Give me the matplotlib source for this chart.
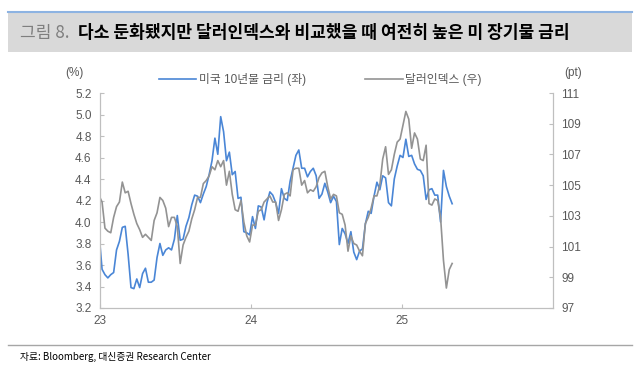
import numpy as np
import pandas as pd
import matplotlib
matplotlib.use('Agg')
import matplotlib.pyplot as plt
from matplotlib.ticker import MultipleLocator, FormatStrFormatter, FixedLocator

plt.rcParams['font.family'] = ['Liberation Sans', 'Noto Sans CJK KR', 'DejaVu Sans']

# weekly (Friday) readings, starting 2022-12-30
us10y = [3.88,
         3.56, 3.51, 3.48, 3.51, 3.53, 3.74, 3.82, 3.95, 3.96, 3.70,
         3.39, 3.38, 3.47, 3.39, 3.52, 3.57, 3.44, 3.44, 3.46, 3.67,
         3.80, 3.69, 3.74, 3.76, 3.74, 3.84, 4.06, 3.83, 3.84, 3.96,
         4.04, 4.16, 4.25, 4.24, 4.18, 4.26, 4.33, 4.44, 4.57, 4.78,
         4.63, 4.98, 4.84, 4.57, 4.65, 4.44, 4.47, 4.22, 4.23, 3.91,
         3.90, 3.88,
         4.05, 3.94, 4.15, 4.14, 4.02, 4.18, 4.28, 4.25, 4.18, 4.08,
         4.31, 4.22, 4.20, 4.38, 4.50, 4.62, 4.67, 4.50, 4.50, 4.42,
         4.47, 4.50, 4.43, 4.22, 4.26, 4.36, 4.28, 4.18, 4.24, 4.19,
         3.79, 3.94, 3.89, 3.80, 3.91, 3.72, 3.65, 3.73, 3.75, 3.98,
         4.10, 4.08, 4.24, 4.37, 4.30, 4.43, 4.41, 4.18, 4.15, 4.40,
         4.52, 4.62,
         4.60, 4.77, 4.61, 4.62, 4.54, 4.49, 4.48, 4.43, 4.21, 4.30,
         4.31, 4.25, 4.25, 4.00, 4.48, 4.33, 4.24, 4.17]

dxy = [104.3,
       103.9, 102.2, 102.0, 101.9, 102.9, 103.6, 103.9, 105.2, 104.5, 104.6,
       103.8, 103.1, 102.5, 102.1, 101.6, 101.8, 101.6, 101.4, 102.7, 103.2,
       104.2, 104.0, 103.5, 102.3, 102.9, 102.9, 102.3, 99.9, 101.1, 101.6,
       102.0, 102.8, 103.4, 104.2, 104.2, 105.1, 105.3, 105.6, 106.2, 106.0,
       106.6, 106.2, 106.6, 105.0, 105.9, 104.4, 103.4, 103.3, 104.0, 102.6,
       101.7, 101.3,
       102.4, 102.4, 103.3, 103.4, 103.9, 104.1, 104.3, 103.9, 103.9, 102.7,
       103.4, 104.4, 104.5, 104.3, 106.0, 106.1, 106.1, 105.0, 105.3, 104.5,
       104.7, 104.6, 104.9, 105.5, 105.8, 105.9, 104.9, 104.1, 104.4, 104.3,
       103.2, 103.1, 102.4, 100.7, 101.7, 101.2, 101.1, 100.7, 100.4, 102.5,
       102.9, 103.5, 104.3, 104.3, 105.0, 106.7, 107.5, 105.7, 106.0, 107.0,
       107.8, 108.0,
       108.9, 109.8, 109.3, 107.4, 108.4, 108.0, 106.7, 106.6, 107.6, 103.8,
       103.7, 104.1, 104.0, 102.9, 100.1, 98.3, 99.5, 99.9]

dates = pd.date_range('2022-12-30', periods=len(us10y), freq='7D')

year_ticks = ['2023-01-01', '2024-01-01', '2025-01-01']
year_labels = ['23', '24', '25']
right_ticks = [97, 99, 101, 103, 105, 107, 109, 111]

blue = '#4a86d6'
grey = '#939393'
txt = '#595959'
spine_c = '#bfbfbf'

fig = plt.figure(figsize=(6.4, 3.7), dpi=100)

# header band
fig.patches.append(plt.Rectangle((8/640, 1-52/370), 624/640, 40/370, transform=fig.transFigure,
                                 facecolor='#d9d9d9', edgecolor='none'))
fig.lines.append(plt.Line2D([8/640, 632/640], [1-12/370, 1-12/370], transform=fig.transFigure,
                            color='#8db3e2', lw=1.5))
fig.text(20/640, 1-33/370, '그림 8.', fontsize=12.3, color='#7f7f7f', va='center',
         family=['Noto Sans CJK KR'])
fig.text(78/640, 1-33/370, '다소 둔화됐지만 달러인덱스와 비교했을 때 여전히 높은 미 장기물 금리',
         fontsize=12.3, color='black', weight='bold', va='center', family=['Noto Sans CJK KR'])

# footer
fig.lines.append(plt.Line2D([8/640, 632/640], [1-345/370, 1-345/370], transform=fig.transFigure,
                            color='#a6a6a6', lw=1.0))
fig.text(20/640, 1-357/370, '자료: Bloomberg, 대신증권 Research Center', fontsize=7,
         color='black', va='center', family=['Noto Sans CJK KR'])

ax = fig.add_axes([100/640, 1-308/370, 453/640, 215/370])
ax2 = ax.twinx()

l1, = ax.plot(dates, us10y, color=blue, lw=1.2, label='미국 10년물 금리 (좌)')
l2, = ax2.plot(dates, dxy, color=grey, lw=1.2, label='달러인덱스 (우)')

ax.set_xlim(pd.Timestamp('2023-01-01'), pd.Timestamp('2026-01-01'))
ax.set_ylim(3.2, 5.2)
ax2.set_ylim(97, 111)
ax.yaxis.set_major_locator(MultipleLocator(0.2))
ax.yaxis.set_major_formatter(FormatStrFormatter('%.1f'))
ax2.yaxis.set_major_locator(FixedLocator(right_ticks))
ax.set_xticks(pd.to_datetime(year_ticks))
ax.set_xticklabels(year_labels)

for a in (ax, ax2):
    a.spines['top'].set_visible(False)
    for s in ('left', 'right', 'bottom'):
        a.spines[s].set_color(spine_c)
        a.spines[s].set_linewidth(0.8)
    a.tick_params(direction='in', length=3, color=spine_c, labelsize=8.5, labelcolor=txt)
ax.tick_params(axis='y', pad=6)
ax2.tick_params(axis='y', pad=6)
ax.tick_params(axis='x', pad=5)

fig.text(65/640, 1-73/370, '(%)', fontsize=8.5, color=txt, va='center')
fig.text(564/640, 1-73/370, '(pt)', fontsize=8.5, color=txt, va='center')

leg = ax.legend(handles=[l1, l2], loc='center', bbox_to_anchor=(320/640, 1-80/370),
                bbox_transform=fig.transFigure, ncol=2, frameon=False, fontsize=8.5,
                handlelength=3.2, handletextpad=0.2, columnspacing=5)
for t in leg.get_texts():
    t.set_color(txt)

plt.savefig('out.png', dpi=100)
